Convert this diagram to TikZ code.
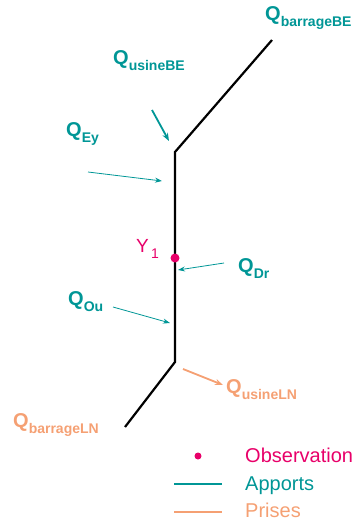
\documentclass[tikz,border=0pt]{standalone}
\usepackage{fontspec}
\setmainfont{Liberation Sans}
\usetikzlibrary{arrows.meta}
\definecolor{apport}{RGB}{0,150,150}
\definecolor{prise}{RGB}{245,160,115}
\definecolor{obs}{RGB}{232,0,105}
\newcommand{\debit}[1]{{\fontsize{20}{20}\selectfont\bfseries Q}\raisebox{-6pt}{\fontsize{14}{14}\selectfont\bfseries #1}}

\begin{document}
\begin{tikzpicture}[x=1pt,y=-1pt,
    lbl/.style={anchor=base west,inner sep=0pt},
    flux/.style={apport,line width=0.8pt,-{Stealth[length=7pt,width=5pt]}},
    fluxfort/.style={line width=1.8pt,-{Stealth[length=8pt,width=6pt]}},
    riviere/.style={black,line width=2.2pt}]
        \useasboundingbox (0,0) rectangle (360,523);
        % trace de la riviere
        \coordinate (haut) at (272,40);
        \coordinate (coudeBE) at (175,152);
        \coordinate (coudeLN) at (175,362);
        \coordinate (bas) at (125,427);
        \draw[riviere,line join=miter] (haut) -- (coudeBE) -- (coudeLN) -- (bas);
        % observation
        \node[circle,fill=obs,inner sep=0pt,minimum size=9pt] (y1) at (175,258) {};
        \node[lbl,obs,font=\fontsize{19}{19}\selectfont] (ylab) at (136,252) {Y\raisebox{-6pt}{\fontsize{14}{14}\selectfont\,1}};
        % apports
        \node[lbl,apport] (qbBE) at (265,20) {\debit{barrageBE}};
        \node[lbl,apport] (quBE) at (113,64) {\debit{usineBE}};
        \node[lbl,apport] (qEy) at (66,136) {\debit{Ey}};
        \node[lbl,apport] (qDr) at (238,272) {\debit{Dr}};
        \node[lbl,apport] (qOu) at (68,305) {\debit{Ou}};
        \coordinate (uBEa) at (152,110);
        \coordinate (uBEb) at (169,141);
        \coordinate (eya) at (88,172);
        \coordinate (eyb) at (162,181);
        \coordinate (dra) at (224,263);
        \coordinate (drb) at (178,270);
        \coordinate (oua) at (113,307);
        \coordinate (oub) at (170,323);
        \draw[flux,fluxfort] (uBEa) -- (uBEb);
        \draw[flux] (eya) -- (eyb);
        \draw[flux] (dra) -- (drb);
        \draw[flux] (oua) -- (oub);
        % prises
        \node[lbl,prise] (quLN) at (226,393) {\debit{usineLN}};
        \node[lbl,prise] (qbLN) at (13,427) {\debit{barrageLN}};
        \coordinate (uLNa) at (183,369);
        \coordinate (uLNb) at (223,385);
        \draw[flux,prise,fluxfort] (uLNa) -- (uLNb);
        % legende
        \node[circle,fill=obs,inner sep=0pt,minimum size=7pt] (legobs) at (198,456) {};
        \coordinate (legAa) at (174,484);
        \coordinate (legAb) at (222,484);
        \coordinate (legPa) at (174,512);
        \coordinate (legPb) at (222,512);
        \draw[apport,line width=2.8pt] (legAa) -- (legAb);
        \draw[prise,line width=2.8pt] (legPa) -- (legPb);
        \node[lbl,obs,font=\fontsize{20}{20}\selectfont] (tobs) at (245,462) {Observation};
        \node[lbl,apport,font=\fontsize{20}{20}\selectfont] (tapp) at (245,490) {Apports};
        \node[lbl,prise,font=\fontsize{20}{20}\selectfont] (tpri) at (245,517) {Prises};
\end{tikzpicture}
\end{document}
